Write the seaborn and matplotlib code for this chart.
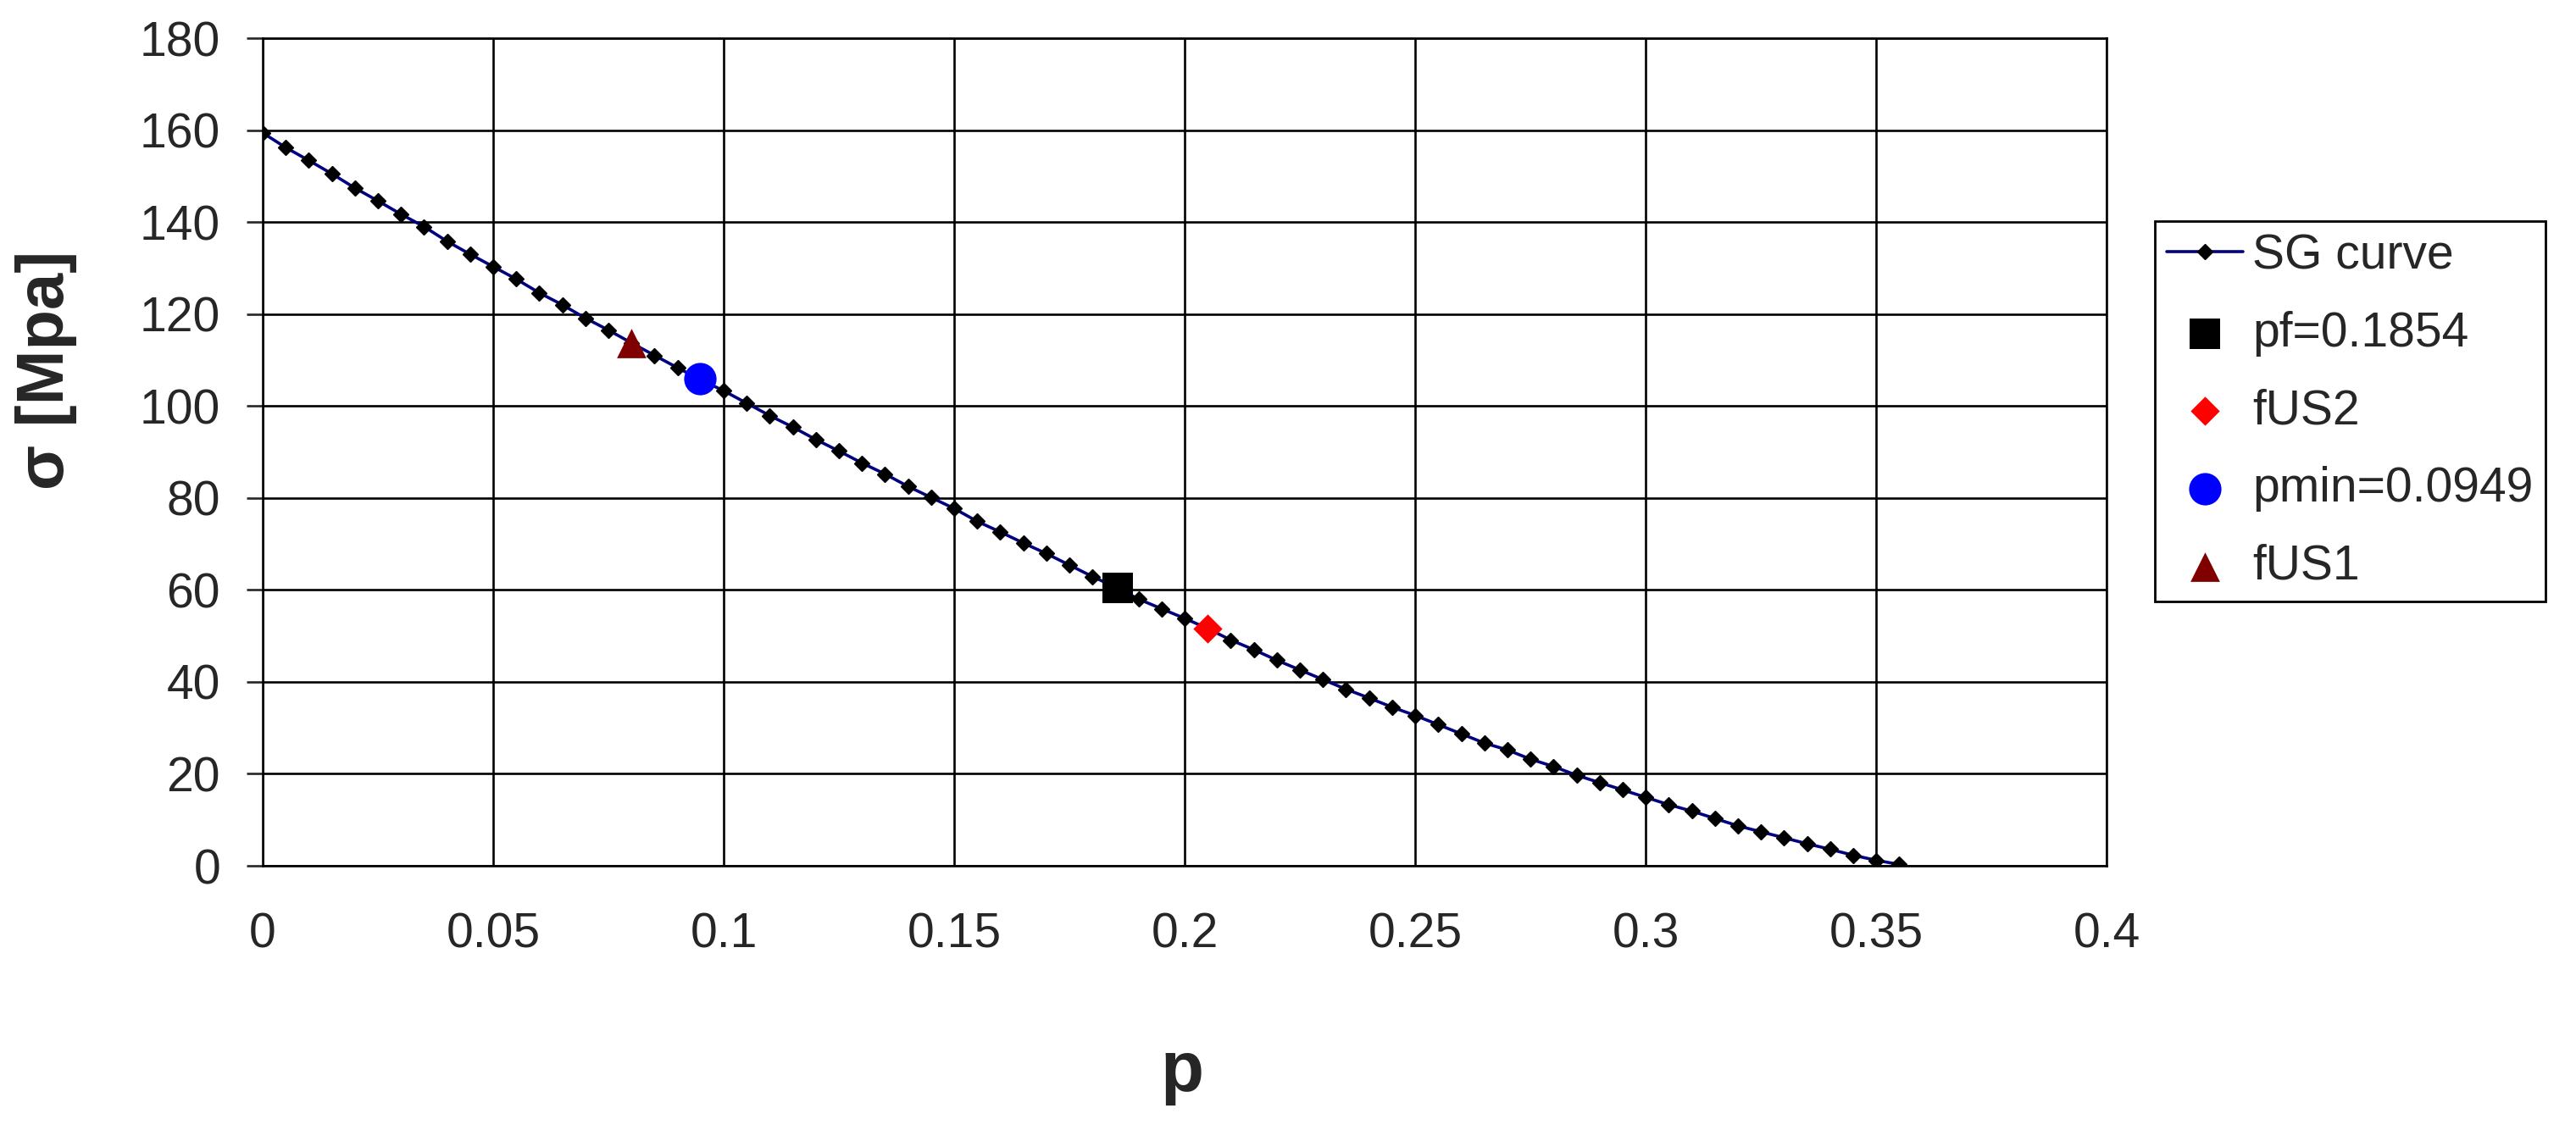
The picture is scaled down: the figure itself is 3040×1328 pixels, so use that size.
import numpy as np
import pandas as pd
import seaborn as sns
import matplotlib.pyplot as plt

# SG curve (p step 0.005)
p_values = [0.000, 0.005, 0.010, 0.015, 0.020, 0.025, 0.030, 0.035, 0.040, 0.045,
            0.050, 0.055, 0.060, 0.065, 0.070, 0.075, 0.080, 0.085, 0.090, 0.095,
            0.100, 0.105, 0.110, 0.115, 0.120, 0.125, 0.130, 0.135, 0.140, 0.145,
            0.150, 0.155, 0.160, 0.165, 0.170, 0.175, 0.180, 0.185, 0.190, 0.195,
            0.200, 0.205, 0.210, 0.215, 0.220, 0.225, 0.230, 0.235, 0.240, 0.245,
            0.250, 0.255, 0.260, 0.265, 0.270, 0.275, 0.280, 0.285, 0.290, 0.295,
            0.300, 0.305, 0.310, 0.315, 0.320, 0.325, 0.330, 0.335, 0.340, 0.345,
            0.350, 0.355]
sigma_values = [159.4, 156.2, 153.4, 150.5, 147.4, 144.6, 141.7, 139.0, 135.8, 133.0,
                130.3, 127.6, 124.6, 122.0, 119.1, 116.5, 113.7, 111.0, 108.3, 105.7,
                103.3, 100.6, 97.9, 95.4, 92.7, 90.2, 87.6, 85.2, 82.5, 80.1,
                77.7, 74.9, 72.6, 70.2, 67.9, 65.4, 62.9, 60.6, 58.0, 55.9,
                53.8, 51.6, 49.1, 47.0, 44.7, 42.6, 40.5, 38.4, 36.5, 34.5,
                32.7, 30.7, 28.7, 26.7, 25.2, 23.2, 21.6, 19.7, 18.1, 16.5,
                14.9, 13.3, 11.9, 10.3, 8.7, 7.4, 6.1, 4.8, 3.6, 2.3,
                1.2, 0.3]

# special points
point_labels = ['pf=0.1854', 'fUS2', 'pmin=0.0949', 'fUS1']
point_p = [0.1854, 0.205, 0.0949, 0.080]
point_sigma = [60.5, 51.6, 105.9, 113.7]
point_markers = ['s', 'D', 'o', '^']
point_colors = ['black', 'red', 'blue', '#800000']
point_sizes = [26.5, 17.5, 27.5, 25]

x_ticks = [0, 0.05, 0.1, 0.15, 0.2, 0.25, 0.3, 0.35, 0.4]
x_tick_labels = ['0', '0.05', '0.1', '0.15', '0.2', '0.25', '0.3', '0.35', '0.4']
y_ticks = [0, 20, 40, 60, 80, 100, 120, 140, 160, 180]

sns.set_style('white')
plt.rcParams['font.family'] = ['Liberation Sans', 'DejaVu Sans']

fig = plt.figure(figsize=(30.4, 13.28), dpi=100)
ax = fig.add_axes([0.102, 0.2304, 0.7158, 0.7357])

curve = pd.DataFrame({'p': p_values, 'sigma': sigma_values})
sns.lineplot(data=curve, x='p', y='sigma', ax=ax, sort=False, estimator=None,
             color='#000080', linewidth=2.6, marker='D', markersize=9,
             markerfacecolor='black', markeredgecolor='black', markeredgewidth=1,
             label='SG curve', zorder=3)

for lab, px, py, m, c, ms in zip(point_labels, point_p, point_sigma,
                                 point_markers, point_colors, point_sizes):
    sns.scatterplot(x=[px], y=[py], ax=ax, marker=m, color=c, s=ms ** 2,
                    linewidth=0, label=lab, zorder=4)

ax.set_xlim(0, 0.4)
ax.set_ylim(0, 180)
ax.set_xticks(x_ticks)
ax.set_xticklabels(x_tick_labels)
ax.set_yticks(y_ticks)
ax.grid(True, color='black', linewidth=1.9)
for s in ax.spines.values():
    s.set_color('black')
    s.set_linewidth(1.9)
ax.tick_params(axis='y', direction='out', length=14, width=1.9, pad=22,
               labelsize=41, left=True)
ax.tick_params(axis='x', length=0, pad=39, labelsize=41)
ax.set_xlabel('')
ax.set_ylabel('')

fig.text(0.018, 0.671, 'σ [Mpa]', rotation=90, ha='center', va='center',
         fontsize=56, fontweight='bold')
fig.text(0.459, 0.047, 'p', ha='center', va='center',
         fontsize=60, fontweight='bold')

handles, labels = ax.get_legend_handles_labels()
ax.get_legend().remove()
leg = fig.legend(handles, labels, loc='upper left', bbox_to_anchor=(0.8365, 0.8035),
                 borderaxespad=0, fontsize=41, frameon=True, fancybox=False,
                 edgecolor='black', framealpha=1, borderpad=0.25,
                 labelspacing=0.66, handlelength=1.57, handletextpad=0.2,
                 scatterpoints=1)
leg.get_frame().set_linewidth(2)

fig.savefig('out.png', dpi=100, facecolor='white')
